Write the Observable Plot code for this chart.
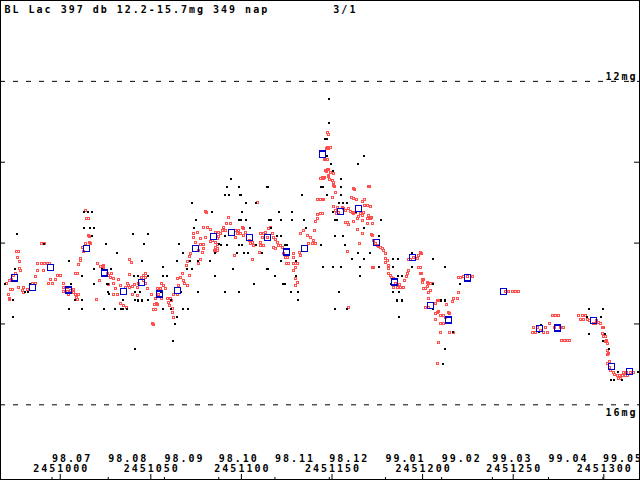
<!DOCTYPE html>
<html><head><meta charset="utf-8">
<script src="https://cdn.jsdelivr.net/npm/d3@7"></script>
<script src="https://cdn.jsdelivr.net/npm/@observablehq/plot@0.6"></script>
<style>html,body{margin:0;padding:0;background:#fff}</style>
</head><body><div id="chart"></div>
<script>
const JD0 = 2451000;
const title = "BL Lac 397 db 12.2-15.7mg 349 nap        3/1";
const magLines = [12, 16];
const magTicks = [13, 14, 15];
const jdTicks = [2451000, 2451050, 2451100, 2451150, 2451200, 2451250, 2451300];
const monthStarts = [2450995.5, 2451026.5, 2451057.5, 2451087.5, 2451118.5, 2451148.5, 2451179.5, 2451210.5, 2451238.5, 2451269.5, 2451299.5];
const monthLabels = ["98.07","98.08","98.09","98.10","98.11","98.12","99.01","99.02","99.03","99.04","99.05"];

// [days after JD 2451000, magnitude]
const redObs = [
[14.0,13.60],[14.5,13.70],[15.6,13.70],[15.6,13.91],[16.2,13.92],[16.2,13.99],[16.7,14.01],[14.0,14.01],[12.3,14.06],[12.9,14.11],[11.2,14.19],[11.2,14.22],[10.1,14.27],[9.5,14.37],[8.4,14.38],[10.1,14.64],[9.0,14.67],[9.5,14.70],[7.3,14.58],[7.3,14.61],
[-10.3,14.01],[-8.7,14.01],[-24.1,14.11],[-23.0,14.11],[-23.6,14.18],[-22.5,14.23],[-22.5,14.32],[-21.9,14.34],[-24.7,14.38],[-25.8,14.40],[-26.9,14.45],[-28.0,14.46],[-29.6,14.50],[-27.4,14.58],[-26.3,14.58],[-28.5,14.63],[-28.0,14.68],[-28.0,14.70],[-23.0,14.55],[-20.8,14.59],[-20.3,14.55],[-18.0,14.58],[-15.3,14.50],[-13.6,14.50],[-20.3,14.61],
[-12.5,14.25],[-10.3,14.25],[-8.7,14.25],[-7.0,14.25],[-5.9,14.25],[-12.5,14.34],[-9.2,14.34],[-13.6,14.41],[-5.4,14.45],[-2.6,14.45],[-4.2,14.50],[-6.5,14.50],[-1.5,14.40],[0.2,14.40],[1.8,14.50],[1.8,14.55],[4.0,14.55],[1.8,14.60],[4.0,14.60],[4.6,14.64],[8.4,14.64],[20.6,14.25],[22.2,14.29],[23.9,14.29],[21.7,14.46],[26.1,14.37],[26.6,14.40],[20.0,14.70],[5.7,14.59],
[80.2,13.61],[80.8,13.62],[79.1,13.81],[81.3,13.81],[82.9,13.83],[85.7,13.87],[87.4,13.87],[73.6,13.88],[75.8,13.87],[73.6,13.93],[77.4,13.94],[80.2,13.93],[74.7,13.99],[77.4,14.02],[79.1,14.02],[82.9,13.98],[85.7,13.99],[86.8,14.07],[85.7,14.11],[76.3,14.09],[71.9,14.13],[71.4,14.17],[70.3,14.23],[69.7,14.28],[77.4,14.20],[76.3,14.25],[71.4,14.40],[67.5,14.38],[66.4,14.43],[68.0,14.46],[64.7,14.44],[68.6,14.50],[70.3,14.53],[65.3,14.53],[64.7,14.63],[62.5,14.63],[60.9,14.68],[61.4,14.71],[59.2,14.68],[59.8,14.74],[60.3,14.77],[62.0,14.81],[62.0,14.86],[62.5,14.92],[57.0,14.53],[58.1,14.56],[55.9,14.50],[53.7,14.56],[55.3,14.56],[54.2,14.63],[55.9,14.68],[52.6,14.69],[53.1,14.75],[50.4,14.63],[48.2,14.56],[47.1,14.50],[46.0,14.46],[47.1,14.43],[46.0,14.40],[47.1,14.37],[44.9,14.43],[43.2,14.50],[42.7,14.55],[41.0,14.51],[39.9,14.54],[38.2,14.55],[37.7,14.53],[42.7,14.65],[39.9,14.63],[37.1,14.50],[36.0,14.55],[33.3,14.53],[32.2,14.45],[30.5,14.56],[29.4,14.64],[31.6,14.64],[29.4,14.50],[26.6,14.51],[27.8,14.43],[29.4,14.44],[23.9,14.33],[28.3,14.37],[23.9,14.28],[38.2,14.20],[39.3,14.24],[38.2,14.39],[52.0,14.76],[53.7,14.76],[51.5,14.82],[52.6,14.82],[50.9,15.00],[51.5,15.01],[33.3,14.75],[34.9,14.77],[36.6,14.80],[79.1,14.07],[78.5,14.12],
[147.5,12.63],[148.1,12.66],[147.0,12.83],[148.1,12.83],[146.4,12.97],[147.5,12.97],[147.5,13.09],[147.0,13.11],[148.1,13.18],[148.6,13.21],[143.7,13.20],[145.3,13.20],[142.0,13.46],[143.7,13.46],[145.3,13.46],[142.0,13.65],[143.7,13.63],[140.9,13.73],[108.9,13.50],[92.9,13.68],[91.8,13.76],[94.0,13.76],[90.1,13.81],[89.6,13.85],[91.2,13.85],[88.5,13.88],[87.4,13.92],[86.8,13.94],[86.8,14.02],[85.7,14.06],[86.8,14.09],[85.2,14.09],[84.0,13.97],
[96.7,13.85],[98.4,13.85],[100.6,13.81],[101.2,13.82],[99.5,13.88],[97.8,13.88],[102.3,13.87],[101.2,13.91],[96.7,13.93],[96.2,14.15],[104.5,13.97],[106.1,13.99],[106.7,14.03],[105.0,14.01],[110.5,13.88],[112.2,13.88],[111.6,13.93],[110.5,13.99],[110.5,14.03],[112.2,14.03],[110.0,14.12],[106.1,14.20],[113.3,13.87],[114.9,13.82],[116.1,13.81],[114.4,13.93],[117.2,13.88],[117.7,13.93],[118.8,13.96],[119.9,13.99],[120.5,14.03],[121.6,14.03],[122.7,14.06],[117.7,14.06],[118.8,14.07],[123.2,14.13],[125.4,14.18],[124.3,14.18],[124.9,14.25],[126.0,14.25],[128.8,14.13],[128.8,14.18],[128.8,14.25],[129.9,14.25],[131.0,14.25],[129.9,14.30],[128.8,14.34],[129.9,14.44],[131.0,14.49],[129.9,14.53],[132.1,14.12],[132.6,14.15],[132.6,13.88],[134.3,13.85],[136.5,13.91],[138.1,13.93],[139.8,13.97],[139.2,14.01],[137.0,14.01],[140.9,14.01],[140.3,13.85],[142.0,13.70],
[147.5,12.82],[149.2,12.82],[145.9,12.97],[146.4,13.10],[148.1,13.09],[149.2,13.13],[150.8,13.14],[148.1,13.16],[150.3,13.23],[150.8,13.25],[144.8,13.19],[145.9,13.19],[150.8,13.29],[151.4,13.30],[151.9,13.37],[150.3,13.44],[144.8,13.46],[150.8,13.55],[153.0,13.56],[151.9,13.60],[152.5,13.63],[153.6,13.62],[155.8,13.56],[156.3,13.57],[157.4,13.60],[159.1,13.57],[160.2,13.61],[161.3,13.62],[161.9,13.63],[163.0,13.62],[157.4,13.75],[158.5,13.75],[159.1,13.77],[161.9,13.73],[164.1,13.70],[164.6,13.67],[165.7,13.63],[166.8,13.66],[167.4,13.62],[166.8,13.72],[169.6,13.70],[171.2,13.70],[170.1,13.66],[171.8,13.68],[169.6,13.76],[172.3,13.76],[164.1,13.83],[166.8,13.88],[165.2,14.01],[158.5,14.11],[159.1,14.80],[160.8,13.44],[161.9,13.45],[163.5,13.46],[166.8,13.49],[167.9,13.46],[167.9,13.54],[169.6,13.54],[171.2,13.55],[170.1,13.30],[170.7,13.30],[161.9,13.33],[162.5,13.34],[144.8,13.63],[171.8,13.89],[172.4,13.90],
[172.9,13.97],[174.0,14.01],[175.1,14.03],[175.7,14.04],[176.8,14.06],[177.9,14.07],[178.4,14.09],[179.5,14.13],[179.5,14.19],[180.6,14.22],[179.5,14.24],[181.2,14.28],[181.2,14.32],[181.2,14.37],[182.3,14.40],[182.8,14.43],[183.9,14.44],[185.0,14.50],[183.9,14.55],[186.2,14.55],[187.8,14.55],[189.5,14.55],[187.3,14.51],[191.7,14.38],[191.1,14.41],[192.2,14.34],[190.0,14.46],[192.2,14.20],[193.3,14.20],[195.0,14.18],[197.2,14.19],[197.7,14.15],[198.8,14.12],[199.4,14.13],[197.7,14.30],[198.8,14.30],[198.8,14.37],[199.4,14.38],[199.9,14.45],[200.5,14.45],[199.9,14.49],[202.7,14.49],[203.3,14.50],[204.4,14.50],[205.5,14.50],[200.5,14.56],[201.6,14.56],[202.7,14.54],[203.3,14.61],[203.3,14.68],[204.4,14.59],[172.3,14.30],[172.9,14.30],
[207.1,14.75],[208.2,14.71],[208.8,14.71],[201.6,14.80],[203.3,14.80],[207.1,14.87],[208.2,14.86],[208.8,14.84],[207.1,14.94],[209.9,14.90],[211.5,14.90],[212.6,14.92],[209.9,15.00],[211.5,15.00],[209.9,15.11],[208.8,15.23],[208.2,15.49],[214.8,15.11],[217.1,15.11],[213.2,14.76],[214.3,14.86],[214.9,14.87],[216.5,14.72],[217.1,14.68],[219.3,14.68],[219.8,14.61],[219.8,14.43],[220.9,14.43],[222.6,14.41],[224.8,14.41],[227.5,14.41],
[245.8,14.60],[247.4,14.60],[249.6,14.60],[251.3,14.60],[252.9,14.60],[271.7,14.90],[273.3,14.90],[275.0,14.90],[270.0,15.00],[261.2,15.05],[263.4,15.05],[265.1,15.08],[262.3,15.10],[260.7,15.10],[266.7,15.10],[268.9,15.10],[267.8,15.05],[272.8,15.05],[276.1,15.05],[277.7,15.05],[276.6,15.20],[278.3,15.20],[279.9,15.20],[281.0,15.20],
[286.0,14.90],[288.2,14.90],[289.9,14.90],[287.1,14.94],[288.8,14.94],[291.0,14.94],[292.1,14.96],[296.0,14.96],[297.1,14.98],[298.2,15.00],[295.4,15.00],[294.3,15.00],[299.3,15.05],[299.8,15.05],[299.3,15.12],[299.8,15.15],[300.9,15.15],[301.5,15.20],[300.9,15.22],[302.0,15.24],[302.0,15.33],[302.6,15.36],[302.0,15.38],[303.1,15.46],[302.0,15.49],[303.1,15.54],[303.7,15.58],[305.3,15.60],[305.9,15.62],[307.5,15.64],[308.6,15.64],[310.3,15.64],[312.0,15.64],[313.1,15.64],[308.1,15.68],[309.2,15.68],[310.9,15.60],[312.5,15.60],[314.7,15.60],[316.4,15.60]
];

const blackObs = [
[-23.6,13.89],[12.9,13.61],[15.6,13.61],[17.8,13.61],[12.9,13.81],[16.2,13.81],[18.9,13.81],[17.8,13.91],[25.5,14.01],[31.6,14.12],[4.6,14.22],[11.8,14.41],[18.4,14.32],[23.3,14.32],[28.3,14.32],[18.9,14.50],[5.7,14.50],[-30.2,14.50],[-26.3,14.70],[-19.7,14.61],[-17.5,14.61],[7.9,14.70],[11.8,14.70],[4.6,14.81],[11.8,14.81],[-25.8,14.91],[23.9,14.81],[27.2,14.63],[34.4,14.70],[40.4,13.89],[46.5,14.01],[48.7,13.89],
[73.0,13.51],[74.7,13.71],[74.1,13.81],[65.8,14.01],[68.0,14.12],[64.7,14.22],[57.0,14.30],[69.7,14.32],[72.5,14.32],[75.8,14.22],[82.9,14.22],[85.7,14.41],[83.5,13.61],[87.4,14.01],[56.5,14.41],[42.7,14.41],[48.2,14.41],[76.3,14.61],[67.5,14.81],[70.3,14.81],[61.4,14.81],[64.7,14.91],[63.6,15.00],[62.5,15.21],[41.5,15.31],[30.5,14.81],[34.4,14.81],[41.5,14.70],[48.2,14.70],[60.9,14.70],[45.4,14.22],[71.4,14.22],[59.2,14.41],[41.0,14.41],[26.1,14.50],[26.6,14.61],[41.5,14.61],[43.8,14.61],[55.9,14.61],[66.4,14.61],[42.7,14.71],[44.9,14.71],[33.3,14.81],[37.1,14.81],[56.5,14.81],[-9.2,14.01],[-25.2,14.32],[-16.4,14.50],
[148.1,12.22],[148.1,12.52],[146.4,12.71],[147.5,12.71],[147.5,12.92],[94.5,13.21],[92.3,13.31],[98.4,13.31],[114.4,13.31],[90.7,13.41],[93.4,13.41],[99.5,13.41],[133.2,13.41],[144.2,13.31],[145.3,13.31],[147.0,13.41],[102.3,13.51],[107.8,13.51],[100.6,13.61],[120.5,13.61],[127.7,13.61],[98.4,13.71],[99.5,13.71],[102.8,13.71],[115.5,13.71],[116.6,13.71],[121.6,13.71],[127.7,13.71],[134.3,13.71],[104.5,13.81],[116.6,13.81],[119.4,13.91],[121.6,13.91],[135.4,13.81],[91.2,13.91],[98.4,14.02],[100.6,14.02],[88.5,14.02],[92.3,14.02],[108.3,14.02],[124.3,14.02],[125.4,14.02],[85.7,14.12],[97.8,14.12],[101.2,14.12],[103.9,14.12],[111.6,14.12],[121.6,14.22],[129.9,14.22],[144.2,14.02],[145.3,14.30],[95.1,14.32],[114.4,14.32],[118.3,14.41],[106.7,14.51],[122.7,14.51],[123.8,14.51],[127.1,14.61],[131.0,14.61],[91.2,14.61],[98.4,14.61],[131.0,14.70],[129.9,14.41],
[149.2,13.02],[164.1,13.02],[167.9,12.92],[150.8,13.11],[155.2,13.21],[155.2,13.31],[155.2,13.41],[154.1,13.51],[156.3,13.51],[158.0,13.51],[150.3,13.61],[163.5,13.61],[151.9,13.71],[153.0,13.71],[167.4,13.81],[177.3,13.71],[151.9,13.91],[155.8,13.91],[175.7,13.91],[157.4,14.02],[164.6,14.12],[171.2,14.12],[161.3,14.20],[167.4,14.20],[183.4,14.20],[186.2,14.20],[194.4,14.12],[205.5,14.20],[150.3,14.30],[155.2,14.30],[165.7,14.30],[176.2,14.30],[183.4,14.30],[194.4,14.30],[212.6,14.30],[165.7,14.41],[186.2,14.41],[188.4,14.41],[182.3,14.50],[206.0,14.50],[220.9,14.50],[183.9,14.61],[186.7,14.61],[153.6,14.61],[185.6,14.71],[188.4,14.71],[151.9,14.81],[158.5,14.81],[210.4,14.71],[212.6,14.71],[186.7,14.91],[212.6,15.31],[211.5,15.50],[216.5,15.10],[206.0,14.81],
[291.6,14.81],[299.8,14.81],[290.5,14.91],[298.7,14.91],[265.6,15.01],[264.5,15.10],[291.6,15.12],[300.4,15.12],[299.3,15.21],[302.6,15.31],[303.7,15.69],[305.9,15.69],[309.8,15.69],[308.1,15.60],[318.6,15.60]
];

const binMeans = [
[-25.2,14.43],[-15.3,14.55],[-5.4,14.30],[4.6,14.58],[14.5,14.07],[24.4,14.37],[34.9,14.60],[44.9,14.49],[54.8,14.63],[64.7,14.59],[74.7,14.07],[84.6,13.92],[94.5,13.87],[104.5,13.93],[114.4,13.93],[124.9,14.11],[134.8,14.07],[144.8,12.90],[154.7,13.61],[164.6,13.57],[174.5,13.99],[184.5,14.48],[194.4,14.18],[204.4,14.77],[214.3,14.95],[224.8,14.43],[244.7,14.60],[264.5,15.06],[274.4,15.05],[294.3,14.96],[304.2,15.53],[314.2,15.59]
];

const jd = d => JD0 + d[0];
const mag = d => d[1];

const chart = Plot.plot({
  width: 640,
  height: 480,
  marginTop: 0, marginRight: 0, marginBottom: 0, marginLeft: 0,
  x: {domain: [2450967.05, 2451320.25], axis: null},
  y: {domain: [11.0, 16.936], range: [0, 480], axis: null},
  style: {fontFamily: "DejaVu Sans Mono", fontSize: "10px", fontWeight: "bold", letterSpacing: "2px", background: "white", color: "black", overflow: "hidden"},
  marks: [
    Plot.ruleY(magLines, {y: d => d, stroke: "black", strokeDasharray: "5,8"}),
    Plot.tickY(magTicks, {y: d => d, insetRight: 635, stroke: "black"}),
    Plot.tickY(magTicks, {y: d => d, insetLeft: 634, stroke: "black"}),
    Plot.tickX(jdTicks, {x: d => d, insetTop: 474, stroke: "black"}),
    Plot.tickX(monthStarts, {x: d => d, insetTop: 477, stroke: "black"}),
    Plot.dot(redObs, {x: jd, y: mag, symbol: "square", r: 1.13, stroke: "#ff5050", strokeWidth: 1, fill: "none", shapeRendering: "crispEdges"}),
    Plot.dot(blackObs, {x: jd, y: mag, symbol: "square", r: 1.13, fill: "black", stroke: "none", shapeRendering: "crispEdges"}),
    Plot.dot(binMeans, {x: jd, y: mag, symbol: "square", r: 3.4, stroke: "#0000cc", strokeWidth: 1.3, fill: "none", shapeRendering: "crispEdges"}),
    Plot.text([title], {frameAnchor: "top-left", text: d => d, textAnchor: "start", lineAnchor: "top", dx: 4, dy: 5, fill: "black"}),
    Plot.text(["12mg"], {frameAnchor: "right", y: () => 12, text: d => d, textAnchor: "end", lineAnchor: "top", dx: -3, dy: -8, fill: "black"}),
    Plot.text(["16mg"], {frameAnchor: "right", y: () => 16, text: d => d, textAnchor: "end", lineAnchor: "top", dx: -3, dy: 4, fill: "black"}),
    Plot.text(monthStarts, {x: d => d, text: (d, i) => monthLabels[i], frameAnchor: "bottom", textAnchor: "start", lineAnchor: "top", dy: -26, fill: "black"}),
    Plot.text(jdTicks, {x: d => d, text: d => String(d), frameAnchor: "bottom", textAnchor: "middle", lineAnchor: "top", dy: -15.5, dx: 1, fill: "black"}),
    Plot.frame({stroke: "black", insetRight: 1, insetBottom: 1})
  ]
});
document.getElementById("chart").appendChild(chart);
</script>
</body></html>
